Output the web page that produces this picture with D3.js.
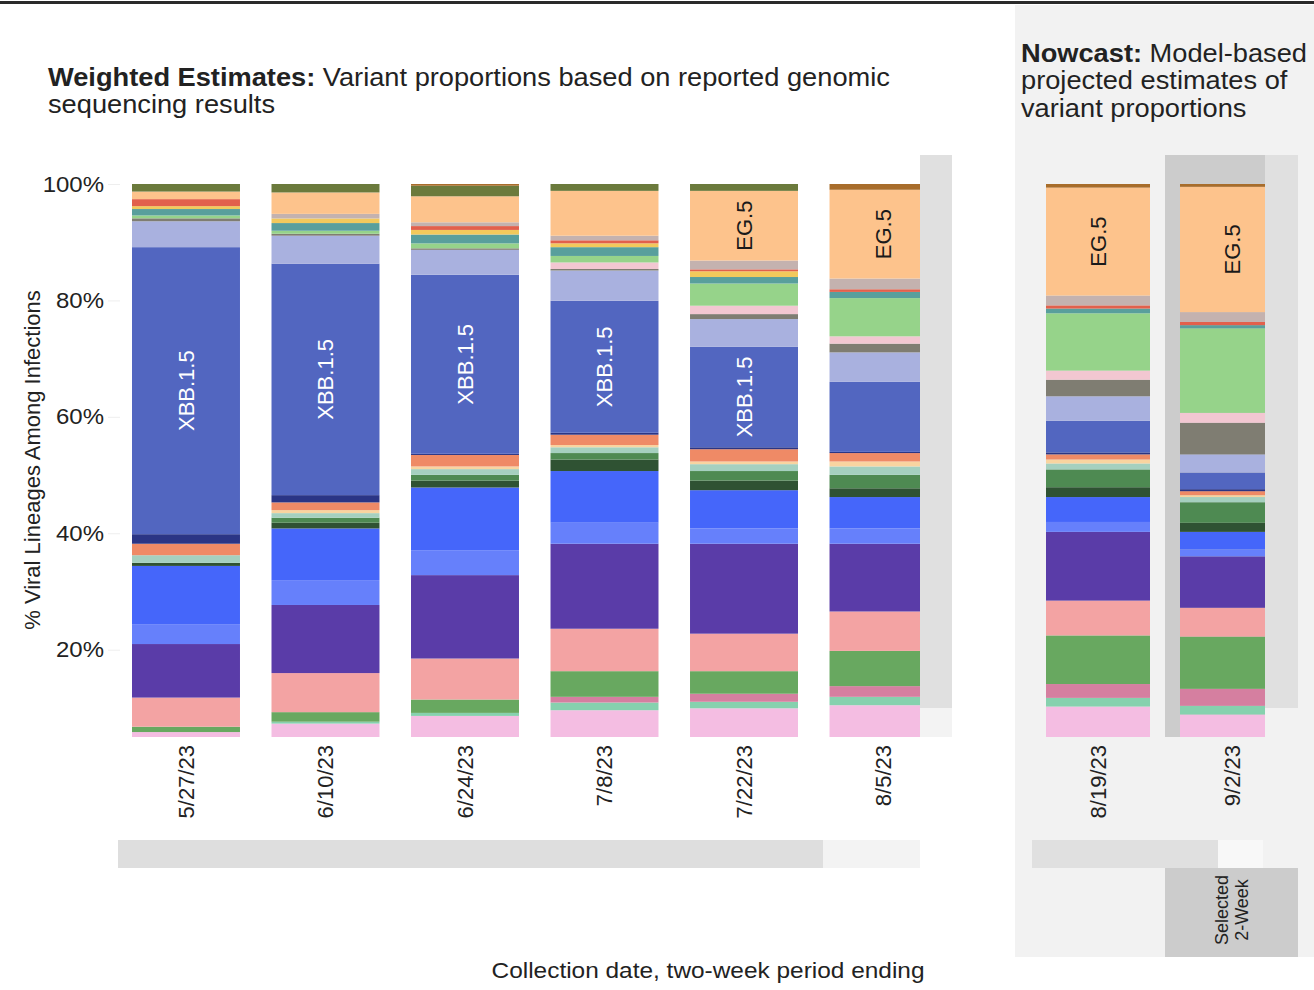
<!DOCTYPE html>
<html><head><meta charset="utf-8">
<script src="https://cdn.jsdelivr.net/npm/d3@7"></script>
<style>body{margin:0;background:#fff;} svg{display:block;font-family:"Liberation Sans",Arial,Helvetica,sans-serif;}</style>
</head><body><svg id="chart" width="1314" height="990"></svg>
<script>
// ---------- data ----------
const weightedDates = ["5/27/23","6/10/23","6/24/23","7/8/23","7/22/23","8/5/23"];
const nowcastDates = ["8/19/23","9/2/23"];
const yTicks = [20, 40, 60, 80, 100];

// lineages, bottom of the stack to top
const lineages = ["XBB","XBB.2.3.2","GE.1","XBB.2.3","XBB.1.9.1","XBB.1.16","XBB.1.16.1","XBB.1.9.2",
  "XBB.1.5.10","XBB.1.5.59","XBB.1.5.68","XBB.1.5.72","XBB.1.42.2","XBB.1.5.1","XBB.1.5","FD.1.1",
  "XBB.1.16.6","EU.1.1","FL.1.5.1","FE.1.1","CH.1.1","BQ.1.1","EG.6.1","EG.5","XBB.1.5.70","Other"];
const lineageColors = ["#f4bde2","#86d1ae","#d57fa0","#68a860","#f3a3a3","#5a3ca8","#6680fb","#4566fa",
  "#2f5233","#4e8a52","#a5d0bf","#f9d4a0","#ef8a66","#2b3585","#5266c0","#a9b1df",
  "#7f7d72","#f2c7d1","#96d38a","#599f9c","#f2c95c","#e2604c","#c4b2af","#fdc38c","#6b7a3c","#a86d2b"];

// % share per two-week period, same order as lineages
const share_0527 = [5.85,0,0,0.92,5.00,9.20,3.42,10.00,0.52,0,1.32,0,1.97,1.64,49.31,4.45,0.50,0,0.50,1.10,0.50,1.20,0,1.30,1.30,0];
const share_0610 = [7.30,0.33,0,1.64,6.71,11.70,4.27,8.88,0.98,0.86,0.79,0.52,1.32,1.25,39.77,4.80,0.33,0,0.52,1.32,0.79,0,0.79,3.68,1.45,0];
const share_0624 = [8.62,0.52,0,2.30,7.04,14.33,4.21,10.84,1.19,0.98,0.99,0.46,1.97,0.20,30.76,4.28,0.26,0,0.85,1.52,0.79,0.66,0.65,4.47,1.81,0.30];
const share_0708 = [9.60,1.32,0.98,4.41,7.29,14.60,3.61,8.88,1.97,1.12,0.99,0.39,1.77,0.33,22.68,5.20,0.26,1.12,1.12,1.51,0.66,0.52,0.79,7.70,1.18,0];
const share_0722 = [9.93,1.12,1.38,3.88,6.44,15.45,2.63,6.57,1.65,1.64,1.18,0.46,2.11,0.33,17.29,4.73,0.86,1.44,3.81,1.12,0.99,0.33,1.51,11.97,1.18,0];
const share_0805 = [10.46,1.44,1.84,6.05,6.77,11.64,2.63,5.39,1.51,2.30,1.45,0.85,1.45,0.20,12.03,5.06,1.51,1.25,6.57,1.06,0,0.46,1.84,15.25,0,0.99];
const share_0819 = [10.23,1.49,2.38,8.35,5.98,11.81,1.70,4.28,1.69,3.06,1.02,0.68,0.88,0.34,5.43,4.21,2.85,1.56,9.85,0.81,0,0.55,1.69,18.54,0,0.62];
const share_0902 = [8.87,1.49,2.92,8.97,4.95,8.83,1.22,2.99,1.56,3.53,0.89,0.33,0.68,0.34,2.86,3.12,5.43,1.70,14.53,0.54,0,0.55,1.69,21.53,0,0.48];

const labelledLineages = ["XBB.1.5", "EG.5"];
const labelMin = {"XBB.1.5": 15, "EG.5": 10};

// ---------- build ----------
const allDates = weightedDates.concat(nowcastDates);
const shareRows = [share_0527, share_0610, share_0624, share_0708, share_0722, share_0805, share_0819, share_0902];
const rows = allDates.map((d, i) => {
  const o = {date: d};
  lineages.forEach((k, j) => o[k] = shareRows[i][j]);
  return o;
});
const series = d3.stack().keys(lineages)(rows);
const color = d3.scaleOrdinal().domain(lineages).range(lineageColors);

const svg = d3.select("#chart");
const W = 1314, H = 990;
const FS = 1.09; // horizontal stretch of text in the reference

const y = d3.scaleLinear().domain([5, 100]).range([737, 184]).clamp(true);
const xW = d3.scaleBand().domain(weightedDates).range([132, 937.5]).paddingInner(0.226).paddingOuter(0);
const xN = d3.scaleBand().domain(nowcastDates).range([1046, 1284]).paddingInner(0.224).paddingOuter(0);
const xPos = d => weightedDates.includes(d) ? xW(d) : xN(d);
const bw = d => weightedDates.includes(d) ? xW.bandwidth() : xN.bandwidth();

svg.append("rect").attr("width", W).attr("height", H).attr("fill", "#fff");
// nowcast panel
svg.append("rect").attr("x", 1015).attr("y", 5).attr("width", W - 1015).attr("height", 952).attr("fill", "#f2f2f2");
// top rule
svg.append("rect").attr("x", 0).attr("y", 1).attr("width", W).attr("height", 3).attr("fill", "#2a2a2a");

// selected period column
const selDate = nowcastDates[nowcastDates.length - 1];
const selX0 = xN(selDate) - 15, selX1 = xN(selDate) + xN.bandwidth() + 14;
svg.append("rect").attr("x", selX0).attr("y", y(100) - 29).attr("width", selX1 - selX0)
  .attr("height", y(0) - y(100) + 29).attr("fill", "#cccccc");

// bars
const gBars = svg.append("g");
gBars.selectAll("g").data(series).join("g").attr("fill", s => color(s.key))
  .selectAll("rect").data(s => s.map(v => ({v, date: v.data.date}))).join("rect")
  .attr("x", d => xPos(d.date))
  .attr("width", d => bw(d.date))
  .attr("y", d => y(d.v[1]))
  .attr("height", d => Math.max(0, y(d.v[0]) - y(d.v[1])));

// scroll strips on the right of each panel
function strip(x, w, bottomFill) {
  svg.append("rect").attr("x", x).attr("y", y(100) - 29).attr("width", w).attr("height", 708 - (y(100) - 29)).attr("fill", "#e0e0e0");
  svg.append("rect").attr("x", x).attr("y", 708).attr("width", w).attr("height", y(0) - 708).attr("fill", bottomFill);
}
const lastW = weightedDates[weightedDates.length - 1];
strip(xW(lastW) + xW.bandwidth() - 17.5, 32, "#f3f3f3");
strip(xN(selDate) + xN.bandwidth() - 19, 33, "#f2f2f2");

// segment labels
series.filter(s => labelledLineages.includes(s.key)).forEach(s => {
  s.forEach(v => {
    const val = v[1] - v[0];
    if (val < labelMin[s.key]) return;
    const cx = xPos(v.data.date) + bw(v.data.date) / 2;
    const cy = (y(v[0]) + y(v[1])) / 2;
    svg.append("text").attr("transform", `translate(${cx},${cy}) rotate(-90)`)
      .attr("text-anchor", "middle").attr("dy", "0.36em")
      .attr("font-size", 22)
      .attr("fill", s.key === "XBB.1.5" ? "#ffffff" : "#1a1a1a")
      .text(s.key);
  });
});

// y axis
const gy = svg.append("g").attr("transform", "translate(120,0)")
  .call(d3.axisLeft(y).tickValues(yTicks).tickFormat(d => d + "%").tickSize(12).tickPadding(4));
gy.select(".domain").remove();
gy.selectAll(".tick line").attr("stroke", "#eeeeee");
gy.selectAll(".tick text").attr("font-size", 22).attr("fill", "#222")
  .attr("font-family", '"Liberation Sans",Arial,sans-serif')
  .attr("transform", `scale(${FS},1)`).attr("x", -16 / FS);

// x tick labels
allDates.forEach(d => {
  const cx = xPos(d) + bw(d) / 2;
  svg.append("text").attr("transform", `translate(${cx},745) rotate(-90)`)
    .attr("text-anchor", "end").attr("dy", "0.36em").attr("font-size", 22).attr("fill", "#222").text(d);
});

// axis titles
svg.append("text").attr("transform", "translate(32,460) rotate(-90)")
  .attr("text-anchor", "middle").attr("dy", "0.36em").attr("font-size", 22).attr("fill", "#222")
  .text("% Viral Lineages Among Infections");
svg.append("text").attr("transform", `translate(708,978) scale(1.11,1)`)
  .attr("text-anchor", "middle").attr("font-size", 22).attr("fill", "#222")
  .text("Collection date, two-week period ending");

// panel titles
function title(x, yb, lines) {
  const t = svg.append("text").attr("transform", `translate(${x},${yb}) scale(${FS},1)`)
    .attr("font-size", 25).attr("fill", "#222");
  lines.forEach((ln, i) => {
    const ts = t.append("tspan").attr("x", 0).attr("y", i * 27.5);
    if (ln.bold) ts.append("tspan").attr("font-weight", "bold").text(ln.bold);
    ts.append("tspan").text(ln.text);
  });
}
title(48, 86, [{bold: "Weighted Estimates:", text: " Variant proportions based on reported genomic"}, {text: "sequencing results"}]);
title(1021, 62, [{bold: "Nowcast:", text: " Model-based"}, {text: "projected estimates of"}, {text: "variant proportions"}]);

// bottom navigation bars
svg.append("rect").attr("x", 118).attr("y", 840).attr("width", 705).attr("height", 28).attr("fill", "#dedede");
svg.append("rect").attr("x", 823).attr("y", 840).attr("width", 97).attr("height", 28).attr("fill", "#f3f3f3");
svg.append("rect").attr("x", 1032).attr("y", 840).attr("width", 186).attr("height", 28).attr("fill", "#e0e0e0");
svg.append("rect").attr("x", 1218).attr("y", 840).attr("width", 45).attr("height", 28).attr("fill", "#f8f8f8");

// selected 2-week box
svg.append("rect").attr("x", selX0).attr("y", 868).attr("width", selX1 - selX0).attr("height", 89).attr("fill", "#cccccc");
const st = svg.append("text").attr("transform", `translate(${(selX0 + selX1) / 2 - 1},910) rotate(-90)`)
  .attr("text-anchor", "middle").attr("font-size", 18).attr("fill", "#222");
st.append("tspan").attr("x", 0).attr("dy", "-0.15em").text("Selected");
st.append("tspan").attr("x", 0).attr("dy", "1.15em").text("2-Week");
</script></body></html>
